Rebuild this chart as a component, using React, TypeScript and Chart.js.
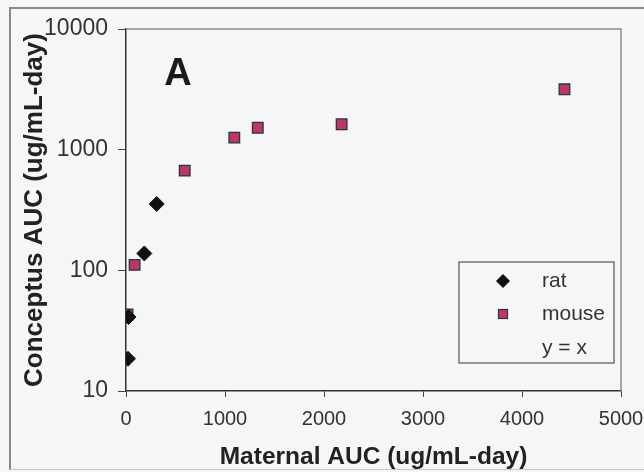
import React, { useEffect, useRef } from 'react';
import { Chart, registerables } from 'chart.js';

Chart.register(...registerables);

const ratX = [20, 25, 185, 310];
const ratY = [18.5, 41, 138, 355];
const mouseX = [16, 87, 593, 1094, 1331, 2178, 4429];
const mouseY = [43, 111, 670, 1258, 1520, 1624, 3165];
const seriesLabels = ['rat', 'mouse', 'y = x'];
const yTickValues = [10, 100, 1000, 10000];
const xTickValues = [0, 1000, 2000, 3000, 4000, 5000];
const xTitle = 'Maternal AUC (ug/mL-day)';
const yTitle = 'Conceptus AUC (ug/mL-day)';
const panelLabel = 'A';

const FONT = "'Liberation Sans', Arial, sans-serif";
const BG = '#f5f6f8';
const MOUSE_FILL = '#b9376a';

export default function App() {
  const ref = useRef<HTMLCanvasElement | null>(null);

  useEffect(() => {
    if (!ref.current) return;
    const decor = {
      id: 'decor',
      beforeDatasetsDraw(chart: any) {
        const { ctx, chartArea: a } = chart;
        ctx.save();
        ctx.strokeStyle = '#8c8c8c';
        ctx.lineWidth = 1.5;
        ctx.beginPath();
        ctx.moveTo(a.left, a.top);
        ctx.lineTo(a.right, a.top);
        ctx.lineTo(a.right, a.bottom);
        ctx.stroke();
        ctx.restore();
      },
      afterDraw(chart: any) {
        const { ctx, chartArea: a } = chart;
        ctx.save();
        // panel label
        ctx.fillStyle = '#1a1a1a';
        ctx.font = `bold 38px ${FONT}`;
        ctx.textAlign = 'center';
        ctx.textBaseline = 'middle';
        ctx.fillText(panelLabel, a.left + 52, a.top + 46);
        // legend
        const lx = a.right - 162, ly = a.bottom - 129, lw = 155, lh = 101;
        ctx.fillStyle = BG;
        ctx.fillRect(lx, ly, lw, lh);
        ctx.strokeStyle = '#555';
        ctx.lineWidth = 1.2;
        ctx.strokeRect(lx, ly, lw, lh);
        const rows = [ly + 19, ly + 52, ly + 86];
        const mx = lx + 44, tx = lx + 83;
        ctx.font = `21px ${FONT}`;
        ctx.textAlign = 'left';
        ctx.textBaseline = 'middle';
        ctx.fillStyle = '#333';
        seriesLabels.forEach((lab, i) => ctx.fillText(lab, tx, rows[i]));
        // rat marker
        ctx.fillStyle = '#111';
        ctx.beginPath();
        ctx.moveTo(mx - 7, rows[0]);
        ctx.lineTo(mx, rows[0] - 7);
        ctx.lineTo(mx + 7, rows[0]);
        ctx.lineTo(mx, rows[0] + 7);
        ctx.closePath();
        ctx.fill();
        // mouse marker
        ctx.fillStyle = MOUSE_FILL;
        ctx.strokeStyle = '#333';
        ctx.lineWidth = 1.2;
        ctx.fillRect(mx - 4.5, rows[1] - 4.5, 9, 9);
        ctx.strokeRect(mx - 4.5, rows[1] - 4.5, 9, 9);
        ctx.restore();
      },
    };

    const chart = new Chart(ref.current, {
      type: 'scatter',
      data: {
        datasets: [
          {
            label: seriesLabels[0],
            data: ratX.map((x, i) => ({ x, y: ratY[i] })),
            pointStyle: 'rectRot',
            pointRadius: 7.5,
            backgroundColor: '#111',
            borderColor: '#111',
            borderWidth: 1,
          },
          {
            label: seriesLabels[1],
            data: mouseX.map((x, i) => ({ x, y: mouseY[i] })),
            pointStyle: 'rect',
            pointRadius: 7.5,
            backgroundColor: MOUSE_FILL,
            borderColor: '#333',
            borderWidth: 1.3,
          },
          {
            label: seriesLabels[2],
            data: [],
            showLine: true,
            borderColor: 'rgba(0,0,0,0)',
            pointRadius: 0,
          },
        ],
      },
      options: {
        responsive: false,
        animation: false,
        layout: { padding: { left: 0, top: 29, right: 23, bottom: 0 } },
        plugins: { legend: { display: false }, tooltip: { enabled: false } },
        scales: {
          x: {
            type: 'linear',
            min: 0,
            max: 5000,
            afterBuildTicks(scale: any) {
              scale.ticks = xTickValues.map((v) => ({ value: v }));
            },
            afterFit(scale: any) {
              scale.height = 81;
              scale.paddingRight = 0;
              scale.paddingLeft = 0;
            },
            ticks: {
              font: { family: FONT, size: 20 },
              color: '#333',
              padding: 10,
              maxRotation: 0,
              callback: (v: any) => String(v),
            },
            grid: { drawOnChartArea: false, drawTicks: true, tickLength: 6, color: '#444' },
            border: { display: true, color: '#333', width: 1.5 },
            title: {
              display: true,
              text: xTitle,
              font: { family: FONT, size: 24.5, weight: 'bold' },
              color: '#222',
              padding: { top: 0, bottom: 0 },
            },
          },
          y: {
            type: 'logarithmic',
            min: 10,
            max: 10000,
            afterBuildTicks(scale: any) {
              scale.ticks = yTickValues.map((v) => ({ value: v, major: true }));
            },
            afterFit(scale: any) {
              scale.width = 126;
              scale.paddingTop = 0;
              scale.paddingBottom = 0;
            },
            ticks: {
              font: { family: FONT, size: 23 },
              color: '#333',
              padding: 10,
              callback: (v: any) => String(v),
            },
            grid: { drawOnChartArea: false, drawTicks: true, tickLength: 8, color: '#444' },
            border: { display: true, color: '#333', width: 1.5 },
            title: {
              display: true,
              text: yTitle,
              font: { family: FONT, size: 26, weight: 'bold' },
              color: '#222',
              padding: { top: 19, bottom: 0 },
            },
          },
        },
      },
      plugins: [decor],
    } as any);
    return () => chart.destroy();
  }, []);

  return (
    <div style={{ position: 'fixed', left: 0, top: 0, width: 644, height: 472, background: BG, overflow: 'hidden' }}>
      <div
        style={{
          position: 'absolute',
          left: 9,
          top: 7,
          width: 660,
          height: 460,
          borderLeft: '2px solid #8a8a8a',
          borderTop: '2px solid #8a8a8a',
          borderBottom: '1px solid #c8c8c8',
        }}
      />
      <canvas ref={ref} width={644} height={472} style={{ position: 'absolute', left: 0, top: 0 }} />
    </div>
  );
}
